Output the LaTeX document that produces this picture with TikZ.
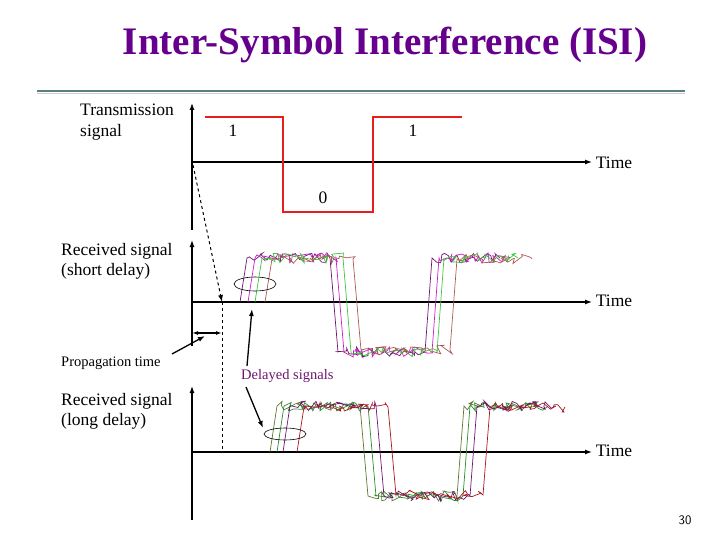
\documentclass[tikz,border=0pt]{standalone}
\usepackage{fontspec}
\setmainfont{Liberation Serif}
\usetikzlibrary{decorations.pathmorphing,arrows.meta}
\definecolor{ttl}{RGB}{102,0,140}
\definecolor{sred}{RGB}{230,30,30}
\definecolor{tpur}{RGB}{110,20,110}
\definecolor{tmag}{RGB}{200,30,200}
\definecolor{tgrn}{RGB}{60,200,60}
\definecolor{tbrn}{RGB}{170,90,80}
\definecolor{tred}{RGB}{170,20,30}
\definecolor{tolv}{RGB}{90,120,50}
\begin{document}
\begin{tikzpicture}[x=1pt,y=-1pt,
  ax/.style={line width=1.2pt,-{Latex[length=7pt,width=5pt]}},
  lbl/.style={font=\fontsize{17.5}{20.5}\selectfont,align=left,anchor=north west,inner sep=0pt},
  tm/.style={font=\fontsize{17.5}{20}\selectfont,inner sep=0pt},
  arr/.style={line width=1.3pt,-{Latex[length=7pt,width=5pt]}},
  ell/.style={draw,line width=0.6pt},
  noisy/.style={decorate,decoration={random steps,segment length=3pt,amplitude=5pt}}]
\pgfmathsetseed{7}
\useasboundingbox (0,0) rectangle (720,540);
\node[font=\fontsize{39}{44}\selectfont\bfseries,text=ttl] (title) at (385,45) {Inter-Symbol Interference (ISI)};
\draw[gray!70!teal,line width=1.2pt] (37,91) -- (685,91);
\draw[gray!40,line width=0.6pt] (37,93.5) -- (685,93.5);
% axes
\coordinate (o1) at (192,162); \coordinate (o1t) at (192,103); \coordinate (o1b) at (192,230); \coordinate (o1r) at (592,162);
\draw[ax] (o1b) -- (o1t); \draw[ax] (o1) -- (o1r);
\coordinate (o2) at (192,302); \coordinate (o2t) at (192,240); \coordinate (o2b) at (192,346); \coordinate (o2r) at (592,302);
\draw[ax] (o2b) -- (o2t); \draw[ax] (o2) -- (o2r);
\coordinate (o3) at (192,452); \coordinate (o3t) at (192,386); \coordinate (o3b) at (192,520); \coordinate (o3r) at (592,452);
\draw[ax] (o3b) -- (o3t); \draw[ax] (o3) -- (o3r);
\node[tm] (t1) at (614,163) {Time};
\node[tm] (t2) at (614,301) {Time};
\node[tm] (t3) at (614,451) {Time};
% transmitted signal
\draw[sred,line width=2.2pt] (205,117) -- (283,117) -- (283,212) -- (373,212) -- (373,117) -- (462,117);
\node[tm] (b1) at (233,131) {1};
\node[tm] (b0) at (323,198) {0};
\node[tm] (b2) at (413,131) {1};
\node[lbl] (ts) at (80,104) {Transmission\\signal};
\node[lbl] (rs) at (61,243) {Received signal\\(short delay)};
\node[lbl] (rl) at (61,393) {Received signal\\(long delay)};
\node[lbl,font=\fontsize{14.5}{16}\selectfont] (pt) at (61,357) {Propagation time};
\node[lbl,font=\fontsize{14.5}{16}\selectfont,text=tpur] (ds) at (241,369) {Delayed signals};
\node[font=\sffamily\fontsize{13}{15}\selectfont] (pg) at (685,520) {30};
% propagation markers
\coordinate (dA) at (193,165); \coordinate (dB) at (222,302); \coordinate (dC) at (222,452);
\draw[dashed,line width=1pt,-{Latex[length=7pt,width=5pt]}] (dA) -- (dB);
\draw[dashed,line width=0.6pt] (dB) -- (dC);
\coordinate (pa) at (192,333); \coordinate (pb) at (222,333);
\draw[line width=1.2pt,{Latex[length=6pt,width=4pt]}-{Latex[length=6pt,width=4pt]}] (pa) -- (pb);
\coordinate (ptt) at (172,354); \coordinate (pth) at (205,336);
\draw[arr] (ptt) -- (pth);
\coordinate (da1) at (247,366); \coordinate (dh1) at (252,309);
\draw[arr] (da1) -- (dh1);
\coordinate (da2) at (246,387); \coordinate (dh2) at (263,428);
\draw[arr] (da2) -- (dh2);
% traces
\newcommand{\trace}[8]{%
 \draw[#1,line width=0.7pt] (#2,#6) -- (#2+7,#7)
   decorate[noisy]{-- (#3,#7)} -- (#3+8,#8)
   decorate[noisy]{-- (#4,#8)} -- (#4+7,#7)
   decorate[noisy]{-- (#5,#7)};}
\trace{tpur}{240}{330}{425}{500}{302}{258}{352}
\trace{tmag}{248}{336}{432}{510}{302}{258}{352}
\trace{tgrn}{255}{343}{437}{518}{302}{258}{352}
\trace{tbrn}{265}{353}{450}{532}{302}{259}{350}
\trace{tolv}{270}{360}{457}{540}{452}{406}{496}
\trace{tgrn!70!black}{277}{368}{463}{548}{452}{406}{496}
\trace{tpur}{283}{376}{470}{556}{452}{406}{496}
\trace{tred}{297}{388}{483}{565}{452}{407}{495}
\draw[ell] (255,284) ellipse (21 and 7);
\draw[ell] (285,434) ellipse (21 and 6);
\end{tikzpicture}
\end{document}
